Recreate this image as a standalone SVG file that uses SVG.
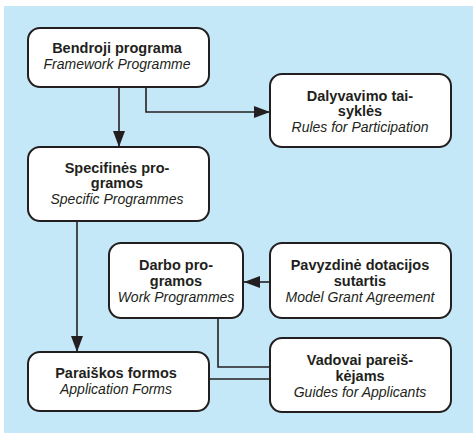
<svg xmlns="http://www.w3.org/2000/svg" width="473" height="433" viewBox="0 0 473 433">
<style>
.box{fill:#fff;stroke:#231f20;stroke-width:2}
.b{font-family:"Liberation Sans",Arial,sans-serif;font-weight:bold;font-size:14.5px;fill:#231f20;text-anchor:middle}
.i{font-family:"Liberation Sans",Arial,sans-serif;font-style:italic;font-size:14px;fill:#231f20;text-anchor:middle}
.ln{fill:none;stroke:#231f20;stroke-width:1.6}
</style>
<defs>
<marker id="ah" viewBox="0 0 16 12" refX="16" refY="6" markerWidth="16" markerHeight="12" markerUnits="userSpaceOnUse" orient="auto">
<path d="M0,0 L16,6 L0,12 z" fill="#231f20"/>
</marker>
</defs>
<rect x="4" y="6" width="469" height="427" fill="#c5e8f8"/>
<g id="connectors">
<path class="ln" d="M119,87 V147" marker-end="url(#ah)"/>
<path class="ln" d="M146,87 V112 H270" marker-end="url(#ah)"/>
<path class="ln" d="M270,282 H244" marker-end="url(#ah)"/>
<path class="ln" d="M77,221 V352" marker-end="url(#ah)"/>
<path class="ln" d="M218,318 V367 H270"/>
<path class="ln" d="M209,379 H270"/>
</g>
<g id="n-bendroji">
<rect class="box" x="28" y="28" width="181" height="59" rx="12"/>
<text class="b" x="117" y="53">Bendroji programa</text>
<text class="i" x="117" y="69">Framework Programme</text>
</g>
<g id="n-dalyvavimo">
<rect class="box" x="270" y="74" width="181" height="73" rx="12"/>
<text class="b" x="360" y="101">Dalyvavimo tai-</text>
<text class="b" x="360" y="116">syklės</text>
<text class="i" x="360" y="132">Rules for Participation</text>
</g>
<g id="n-specifines">
<rect class="box" x="28" y="147" width="181" height="74" rx="12"/>
<text class="b" x="117" y="173">Specifinės pro-</text>
<text class="b" x="117" y="188">gramos</text>
<text class="i" x="117" y="204">Specific Programmes</text>
</g>
<g id="n-darbo">
<rect class="box" x="109" y="243" width="134" height="75" rx="12"/>
<text class="b" x="176" y="270">Darbo pro-</text>
<text class="b" x="176" y="286">gramos</text>
<text class="i" x="176" y="302">Work Programmes</text>
</g>
<g id="n-pavyzdine">
<rect class="box" x="270" y="243" width="181" height="75" rx="12"/>
<text class="b" x="360" y="270">Pavyzdinė dotacijos</text>
<text class="b" x="360" y="286">sutartis</text>
<text class="i" x="360" y="302">Model Grant Agreement</text>
</g>
<g id="n-paraiskos">
<rect class="box" x="28" y="352" width="181" height="59" rx="12"/>
<text class="b" x="116" y="378">Paraiškos formos</text>
<text class="i" x="116" y="394">Application Forms</text>
</g>
<g id="n-vadovai">
<rect class="box" x="270" y="338" width="181" height="74" rx="12"/>
<text class="b" x="360" y="365">Vadovai pareiš-</text>
<text class="b" x="360" y="381">kėjams</text>
<text class="i" x="360" y="397">Guides for Applicants</text>
</g>
</svg>
